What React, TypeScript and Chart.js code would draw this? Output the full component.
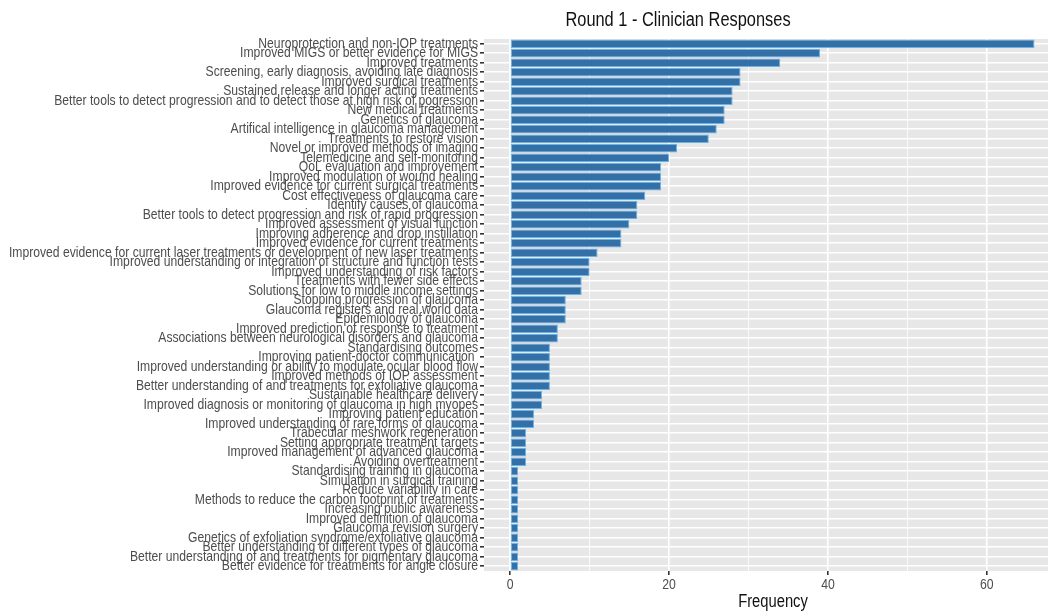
import React, { useEffect, useRef } from 'react';
import { Chart, registerables } from 'chart.js';

Chart.register(...registerables);

const categories: string[] = [
  'Neuroprotection and non-IOP treatments',
  'Improved MIGS or better evidence for MIGS',
  'Improved treatments',
  'Screening, early diagnosis, avoiding late diagnosis',
  'Improved surgical treatments',
  'Sustained release and longer acting treatments',
  'Better tools to detect progression and to detect those at high risk of pogression',
  'New medical treatments',
  'Genetics of glaucoma',
  'Artifical intelligence in glaucoma management',
  'Treatments to restore vision',
  'Novel or improved methods of imaging',
  'Telemedicine and self-monitoring',
  'QoL evaluation and improvement',
  'Improved modulation of wound healing',
  'Improved evidence for current surgical treatments',
  'Cost effectiveness of glaucoma care',
  'Identify causes of glaucoma',
  'Better tools to detect progression and risk of rapid progression',
  'Improved assessment of visual function',
  'Improving adherence and drop instillation',
  'Improved evidence for current treatments',
  'Improved evidence for current laser treatments or development of new laser treatments',
  'Improved understanding or integration of structure and function tests',
  'Improved understanding of risk factors',
  'Treatments with fewer side effects',
  'Solutions for low to middle income settings',
  'Stopping progression of glaucoma',
  'Glaucoma registers and real world data',
  'Epidemiology of glaucoma',
  'Improved prediction of response to treatment',
  'Associations between neurological disorders and glaucoma',
  'Standardising outcomes',
  'Improving patient-doctor communication ',
  'Improved understanding or ability to modulate ocular blood flow',
  'Improved methods of IOP assessment',
  'Better understanding of and treatments for exfoliative glaucoma',
  'Sustainable healthcare delivery',
  'Improved diagnosis or monitoring of glaucoma in high myopes',
  'Improving patient education',
  'Improved understanding of rare forms of glaucoma',
  'Trabecular meshwork regeneration',
  'Setting appropriate treatment targets',
  'Improved management of advanced glaucoma',
  'Avoiding overtreatment',
  'Standardising training in glaucoma',
  'Simulation in surgical training',
  'Reduce variability in care',
  'Methods to reduce the carbon footprint of treatments',
  'Increasing public awareness',
  'Improved definition of glaucoma',
  'Glaucoma revision surgery',
  'Genetics of exfoliation syndrome/exfoliative glaucoma',
  'Better understanding of different types of glaucoma',
  'Better understanding of and treatments for pigmentary glaucoma',
  'Better evidence for treatments for angle closure',
];

const frequencies: number[] = [
  66, 39, 34, 29, 29, 28, 28, 27, 27, 26, 25, 21, 20, 19, 19, 19, 17, 16,
  16, 15, 14, 14, 11, 10, 10, 9, 9, 7, 7, 7, 6, 6, 5, 5, 5, 5, 5,
  4, 4, 3, 3, 2, 2, 2, 2, 1, 1, 1, 1, 1, 1, 1, 1, 1, 1, 1,
];

const xGridValues: number[] = [0, 10, 20, 30, 40, 50, 60];
const xLabelledValues: number[] = [0, 20, 40, 60];

const chartTitle = 'Round 1 - Clinician Responses';
const xAxisTitle = 'Frequency';

const FONT = "'Liberation Sans', Arial, sans-serif";

export default function App() {
  const ref = useRef<HTMLCanvasElement>(null);

  useEffect(() => {
    if (!ref.current) return;

    const panelBg = {
      id: 'panelBg',
      beforeDraw(chart: any) {
        const { ctx, chartArea: a } = chart;
        ctx.save();
        ctx.fillStyle = '#E7E7E7';
        ctx.fillRect(a.left, a.top, a.right - a.left, a.bottom - a.top);
        ctx.restore();
      },
    };

    const condensedText = (ctx: any, text: string, x: number, y: number, k: number) => {
      const w = ctx.measureText(text).width;
      ctx.fillText(text, x, y, w * k);
    };

    const texts = {
      id: 'texts',
      afterDraw(chart: any) {
        const { ctx } = chart;
        const ys = chart.scales.y;
        const xs = chart.scales.x;
        ctx.save();
        ctx.textBaseline = 'middle';

        // y category labels
        ctx.fillStyle = '#4D4D4D';
        ctx.textAlign = 'right';
        ctx.font = `14.4px ${FONT}`;
        categories.forEach((lab, i) => {
          condensedText(ctx, lab, ys.right - 6, ys.getPixelForValue(i), 0.845);
        });

        // x tick labels
        ctx.textAlign = 'center';
        ctx.font = `14.4px ${FONT}`;
        xLabelledValues.forEach((v) => {
          condensedText(ctx, String(v), xs.getPixelForValue(v), 585, 0.85);
        });

        // titles
        ctx.fillStyle = '#111';
        ctx.font = `20px ${FONT}`;
        condensedText(ctx, chartTitle, 678, 20, 0.82);
        ctx.font = `18px ${FONT}`;
        condensedText(ctx, xAxisTitle, 773, 602, 0.82);
        ctx.restore();
      },
    };

    const chart = new Chart(ref.current, {
      type: 'bar',
      data: {
        labels: categories,
        datasets: [
          {
            data: frequencies,
            backgroundColor: '#3470A8',
            borderColor: '#6CB4E6',
            borderWidth: 1,
            borderSkipped: false,
            barPercentage: 0.9,
            categoryPercentage: 1,
          },
        ],
      },
      options: {
        indexAxis: 'y',
        animation: false,
        responsive: false,
        maintainAspectRatio: false,
        layout: { padding: { top: 39, bottom: 0, left: 0, right: 0 } },
        plugins: {
          legend: { display: false },
          tooltip: { enabled: false },
          title: { display: false },
        },
        scales: {
          x: {
            type: 'linear',
            min: -3.3,
            max: 67.7,
            afterBuildTicks: (s: any) => {
              s.ticks = xGridValues.map((v) => ({ value: v }));
            },
            afterFit: (s: any) => {
              s.height = 42;
            },
            grid: {
              color: '#FFFFFF',
              lineWidth: (c: any) => (c.tick && xLabelledValues.includes(c.tick.value) ? 1.6 : 0.8),
              tickColor: (c: any) =>
                c.tick && xLabelledValues.includes(c.tick.value) ? '#333333' : 'rgba(0,0,0,0)',
              tickLength: 4,
              drawOnChartArea: true,
            },
            border: { display: false },
            ticks: {
              autoSkip: false,
              maxRotation: 0,
              padding: 1,
              color: 'rgba(0,0,0,0)',
              font: { family: FONT, size: 14.4 },
            },
          },
          y: {
            type: 'category',
            afterFit: (s: any) => {
              s.width = 484;
            },
            grid: {
              offset: false,
              color: '#FFFFFF',
              lineWidth: 1.6,
              tickColor: '#333333',
              tickLength: 4,
            },
            border: { display: false },
            ticks: {
              autoSkip: false,
              padding: 2,
              color: 'rgba(0,0,0,0)',
              font: { family: FONT, size: 10 },
            },
          },
        },
      },
      plugins: [panelBg, texts],
    } as any);

    return () => chart.destroy();
  }, []);

  return (
    <div style={{ position: 'absolute', left: 0, top: 0, width: 1048, height: 613, background: '#fff' }}>
      <canvas ref={ref} width={1048} height={613} style={{ width: 1048, height: 613, display: 'block' }} />
    </div>
  );
}
